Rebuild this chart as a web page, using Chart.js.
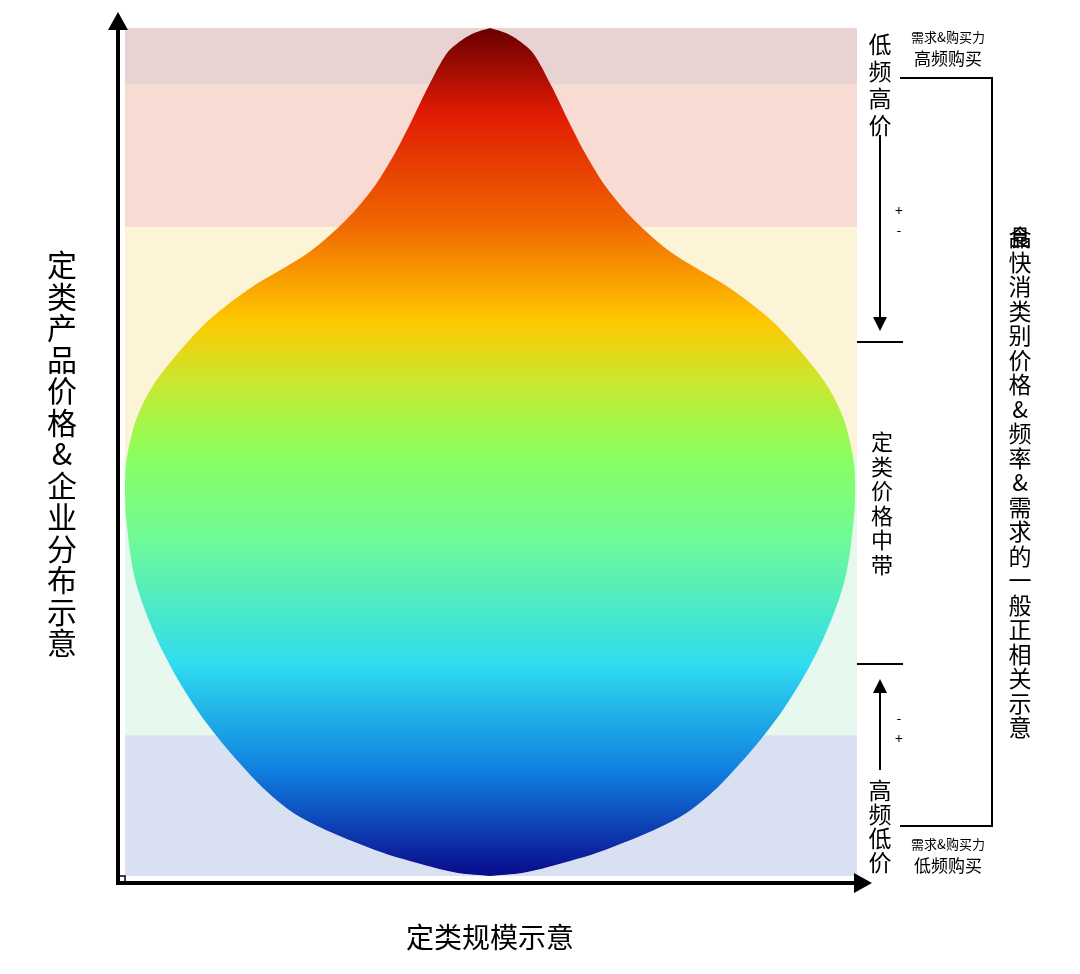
<!DOCTYPE html>
<html><head><meta charset="utf-8">
<script src="https://cdn.jsdelivr.net/npm/chart.js@4"></script>
<style>html,body{margin:0;background:#fff}#w{width:1080px;height:974px}</style>
</head><body><div id="w"><canvas id="c"></canvas></div>
<script>
// price level (0 = lowest, 100 = highest) and half-width of the distribution shape
const levels = [0, 0.35, 1.06, 3.07, 6.96, 10.97, 18.75, 26.65, 34.55, 42.33, 46.7, 49.4, 53.77, 57.67, 61.67, 65.57, 69.46, 73.47, 77.36, 81.25, 85.26, 89.15, 93.04, 97.05, 98.58, 99.4, 100];
const halfWidths = [0, 32, 58, 115, 190, 232, 288, 328, 354, 364, 365, 363, 354, 338, 312, 281, 238, 182, 144, 116, 95, 78, 62, 43, 28, 16, 0];
const bands = [
  {from: 93.3, to: 100, color: '#e9d3d2'},
  {from: 76.5, to: 93.3, color: '#f8dbd3'},
  {from: 49.2, to: 76.5, color: '#fbf4d7'},
  {from: 16.6, to: 49.2, color: '#e7f9ef'},
  {from: 0, to: 16.6, color: '#d8e0f2'}
];
const center = 365;
const leftPts = levels.map((y, i) => ({x: center - halfWidths[i], y}));
const rightPts = levels.map((y, i) => ({x: center + halfWidths[i], y}));

function grad(ctx) {
  const ca = ctx.chart.chartArea; if (!ca) return '#8f8';
  const g = ctx.chart.ctx.createLinearGradient(0, ca.top, 0, ca.bottom);
  [[0,'#680000'],[0.1,'#e01a04'],[0.23,'#f06600'],[0.345,'#ffc800'],[0.42,'#c8e830'],[0.5,'#8cff5c'],[0.6,'#70fb94'],[0.75,'#30dcf0'],[0.875,'#1080e0'],[1,'#0a0a8c']]
    .forEach(s => g.addColorStop(s[0], s[1]));
  return g;
}

const deco = {
  id: 'deco',
  beforeDatasetsDraw(ch) {
    const c = ch.ctx, ys = ch.scales.y, ca = ch.chartArea;
    bands.forEach(b => { c.fillStyle = b.color; const t = ys.getPixelForValue(b.to), bt = ys.getPixelForValue(b.from); c.fillRect(ca.left, t, ca.right - ca.left, bt - t); });
  },
  afterDraw(ch) {
    const c = ch.ctx; c.save();
    c.strokeStyle = '#000'; c.fillStyle = '#000';
    const line = (x1,y1,x2,y2,w) => { c.lineWidth = w; c.beginPath(); c.moveTo(x1,y1); c.lineTo(x2,y2); c.stroke(); };
    const tri = (pts) => { c.beginPath(); c.moveTo(...pts[0]); c.lineTo(...pts[1]); c.lineTo(...pts[2]); c.closePath(); c.fill(); };
    line(118, 884, 118, 26, 4); tri([[118,12],[108,30],[128,30]]);
    line(116, 883, 858, 883, 4); tri([[872,883],[854,873],[854,893]]);
    c.lineWidth = 1.5; c.strokeRect(118, 876, 7, 7);
    const font = s => `${s}px "Noto Sans CJK SC"`;
    c.textAlign = 'center'; c.textBaseline = 'middle';
    const vtext = (str, x, y0, step, size) => { c.font = font(size); [...str].forEach((ch2, i) => c.fillText(ch2, x, y0 + i * step)); };
    vtext('定类产品价格&企业分布示意', 62, 265, 31.5, 30);
    c.font = font(28); c.fillText('定类规模示意', 490, 937);
    vtext('低频高价', 880, 44, 27, 23);
    line(880, 135, 880, 318, 2); tri([[880,331],[873,317],[887,317]]);
    c.font = font(14); c.fillText('+', 899, 211); c.fillText('-', 899, 230);
    line(857, 342, 903, 342, 2);
    vtext('定类价格中带', 882, 442, 24.5, 22);
    line(857, 664, 903, 664, 2);
    line(880, 770, 880, 692, 2); tri([[880,679],[873,693],[887,693]]);
    c.font = font(14); c.fillText('-', 899, 718); c.fillText('+', 899, 739);
    vtext('高频低价', 880, 790, 24, 23);
    c.font = font(13); c.fillText('需求&购买力', 948, 37); c.fillText('需求&购买力', 948, 844);
    c.font = font(17); c.fillText('高频购买', 948, 59); c.fillText('低频购买', 948, 866);
    c.lineWidth = 2; c.beginPath(); c.moveTo(900, 78); c.lineTo(992, 78); c.lineTo(992, 826); c.lineTo(900, 826); c.stroke();
    c.font = font(23); c.fillText('食', 1020, 237); c.fillText('品', 1020, 237);
    vtext('快消类别价格&频率&需求的一般正相关示意', 1020, 262, 24.5, 23);
    c.restore();
  }
};

new Chart(document.getElementById('c'), {
  type: 'line',
  data: { datasets: [
    {data: leftPts, borderWidth: 0, borderColor: 'rgba(0,0,0,0)', pointRadius: 0, tension: 0.3, fill: false, backgroundColor: grad},
    {data: rightPts, borderWidth: 0, borderColor: 'rgba(0,0,0,0)', pointRadius: 0, tension: 0.3, fill: '-1', backgroundColor: grad}
  ]},
  options: {
    indexAxis: 'y',
    responsive: true, maintainAspectRatio: false, animation: false,
    layout: {padding: {left: 125, right: 223, top: 28, bottom: 98}},
    scales: {x: {type: 'linear', display: false, min: 0, max: 732}, y: {type: 'linear', display: false, min: 0, max: 100}},
    plugins: {legend: {display: false}, tooltip: {enabled: false}, filler: {propagate: false}}
  },
  plugins: [deco]
});
</script></body></html>
